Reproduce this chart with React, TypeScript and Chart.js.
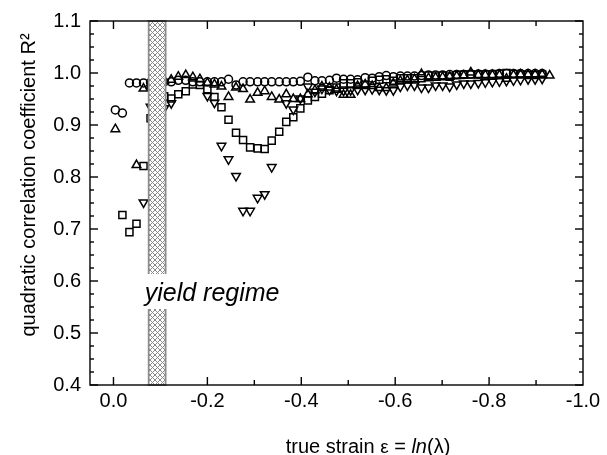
import React, { useEffect, useRef } from "react";
import { Chart, registerables } from "chart.js";

Chart.register(...registerables);

const FONT = "Arial, 'Liberation Sans', Helvetica, sans-serif";

// true strain (x) positions of the measured points
const strain = [
  -0.004, -0.019, -0.034, -0.049, -0.064, -0.079, -0.094, -0.108,
  -0.123, -0.138, -0.154, -0.169, -0.184, -0.2, -0.215, -0.23, -0.245, -0.261,
  -0.276, -0.291, -0.307, -0.322, -0.337, -0.353, -0.368, -0.383, -0.398, -0.414,
  -0.429, -0.444, -0.46, -0.475, -0.49, -0.505, -0.52, -0.536, -0.551, -0.566,
  -0.581, -0.596, -0.611, -0.626, -0.641, -0.656, -0.671, -0.686, -0.701, -0.716,
  -0.731, -0.746, -0.761, -0.777, -0.792, -0.807, -0.822, -0.837, -0.852, -0.867,
  -0.883, -0.898, -0.913, -0.929,
];

const r2Circle = [
  0.929, 0.923, 0.981, 0.981, 0.981, 0.982, 0.982, 0.983,
  0.983, 0.986, 0.986, 0.983, 0.983, 0.983, 0.983, 0.983, 0.988, 0.977,
  0.983, 0.983, 0.983, 0.983, 0.983, 0.983, 0.983, 0.983, 0.984, 0.992,
  0.985, 0.985, 0.986, 0.99, 0.988, 0.988, 0.987, 0.991, 0.99, 0.993,
  0.995, 0.993, 0.994, 0.994, 0.994, 0.995, 0.996, 0.996, 0.996, 0.997,
  0.997, 0.997, 0.998, 0.998, 0.998, 0.998, 0.999, 0.999, 0.999, 0.999,
  0.999, 0.999, 0.999, null,
];

const r2Square = [
  null, 0.727, 0.694, 0.71, 0.821, 0.913, 0.935, 0.955,
  0.951, 0.959, 0.965, 0.978, 0.977, 0.969, 0.954, 0.934, 0.91, 0.885,
  0.871, 0.857, 0.855, 0.854, 0.87, 0.887, 0.906, 0.915, 0.932, 0.947,
  0.954, 0.96, 0.967, 0.972, 0.98, 0.98, 0.982, 0.977, 0.985, 0.987,
  0.988, 0.985, 0.99, 0.99, 0.99, 0.99, 0.995, 0.993, 0.995, 0.993,
  0.996, 0.997, 0.997, 0.997, 0.997, 0.997, 0.998, 1.0, 0.998, 0.997,
  0.996, 0.996, 0.997, null,
];

const r2TriUp = [
  0.892, null, null, 0.823, 0.97, 0.975, 0.98, 0.985,
  0.987, 0.993, 0.996, 0.992, 0.988, 0.981, 0.978, 0.974, 0.954, 0.972,
  0.969, 0.949, 0.962, 0.965, 0.954, 0.949, 0.959, 0.95, 0.95, 0.959,
  0.967, 0.974, 0.972, 0.968, 0.958, 0.958, 0.975, 0.978, 0.975, 0.971,
  0.971, 0.98, 0.985, 0.986, 0.988, 0.998, 0.99, 0.991, 0.992, 0.993,
  0.994, 0.995, 1.001, 0.996, 0.996, 0.996, 0.996, 0.989, 0.996, 0.997,
  0.997, 0.997, 0.997, 0.995,
];

const r2TriDown = [
  null, null, null, null, 0.751, 0.935, null, 0.932,
  0.942, null, null, null, null, 0.956, 0.943, 0.86, 0.834, 0.802,
  0.735, 0.735, 0.76, 0.767, 0.819, null, 0.942, 0.93, 0.951, 0.974,
  0.964, 0.97, 0.968, 0.966, 0.966, 0.967, 0.968, 0.968, 0.969, 0.968,
  0.967, 0.967, 0.974, 0.976, 0.976, 0.972, 0.972, 0.976, 0.976, 0.974,
  0.978, 0.98, 0.98, 0.981, 0.982, 0.983, 0.984, 0.985, 0.986, 0.987,
  0.988, 0.988, 0.989, null,
];

const xTickValues = [0, -0.2, -0.4, -0.6, -0.8, -1.0];
const xMinorValues = [0.0, -0.1, -0.2, -0.3, -0.4, -0.5, -0.6, -0.7, -0.8, -0.9];
const yTickValues = [0.4, 0.5, 0.6, 0.7, 0.8, 0.9, 1.0, 1.1];
const yMinorValues = [
  0.425, 0.45, 0.475, 0.525, 0.55, 0.575, 0.625, 0.65, 0.675, 0.725, 0.75, 0.775,
  0.825, 0.85, 0.875, 0.925, 0.95, 0.975, 1.025, 1.05, 1.075,
];
const yieldBand = [-0.075, -0.111];
const yieldLabel = "yield regime";
const yTitle = "quadratic correlation coefficient R\u00B2";

function toPoints(ys: (number | null)[]) {
  const out: { x: number; y: number }[] = [];
  ys.forEach((v, i) => {
    if (v !== null) out.push({ x: strain[i], y: v });
  });
  return out;
}

function makePattern(ctx: CanvasRenderingContext2D) {
  const c = document.createElement("canvas");
  c.width = 5;
  c.height = 5;
  const p = c.getContext("2d")!;
  p.fillStyle = "#ffffff";
  p.fillRect(0, 0, 5, 5);
  p.strokeStyle = "#8a8a8a";
  p.lineWidth = 1;
  p.beginPath();
  p.moveTo(0, 0);
  p.lineTo(5, 5);
  p.moveTo(5, 0);
  p.lineTo(0, 5);
  p.stroke();
  return ctx.createPattern(c, "repeat")!;
}

const decorPlugin = {
  id: "decor",
  afterDatasetsDraw(chart: any) {
    const { ctx, chartArea, scales } = chart;
    const { left, right, top, bottom } = chartArea;
    const x = scales.x;
    const y = scales.y;
    ctx.save();
    // ticks (inward, on all four sides)
    ctx.fillStyle = "#000";
    const tw = 1.4;
    xMinorValues.forEach((v) => {
      const px = x.getPixelForValue(v);
      const major = xTickValues.some((t) => Math.abs(t - v) < 1e-6);
      const len = major ? 8 : 5;
      ctx.fillRect(px - tw / 2, bottom - len, tw, len);
      ctx.fillRect(px - tw / 2, top, tw, len);
    });
    yTickValues.forEach((v) => {
      const py = y.getPixelForValue(v);
      ctx.fillRect(left, py - tw / 2, 8, tw);
      ctx.fillRect(right - 8, py - tw / 2, 8, tw);
    });
    yMinorValues.forEach((v) => {
      const py = y.getPixelForValue(v);
      ctx.fillRect(left, py - tw / 2, 4, tw);
      ctx.fillRect(right - 4, py - tw / 2, 4, tw);
    });

    // yield band
    const x1 = x.getPixelForValue(yieldBand[0]);
    const x2 = x.getPixelForValue(yieldBand[1]);
    ctx.fillStyle = makePattern(ctx);
    ctx.fillRect(x1, top, x2 - x1, bottom - top);
    ctx.strokeStyle = "#8c8c8c";
    ctx.lineWidth = 1.8;
    ctx.strokeRect(x1, top, x2 - x1, bottom - top);

    // label with white background
    const base = y.getPixelForValue(0.5615);
    ctx.fillStyle = "#fff";
    ctx.fillRect(x1 - 2, base - 27, x2 - x1 + 4, 35);
    ctx.font = `italic 25px ${FONT}`;
    ctx.fillStyle = "#000";
    ctx.textAlign = "left";
    ctx.textBaseline = "alphabetic";
    ctx.fillText(yieldLabel, x1 - 4, base);

    // frame
    ctx.strokeStyle = "#000";
    ctx.lineWidth = 1.4;
    ctx.strokeRect(left, top, right - left, bottom - top);

    // y title
    ctx.save();
    ctx.translate(29, 185);
    ctx.rotate(-Math.PI / 2);
    ctx.font = `20px ${FONT}`;
    ctx.textAlign = "center";
    ctx.textBaseline = "middle";
    ctx.fillText(yTitle, 0, 0);
    ctx.restore();

    // x title with mixed styles
    const parts = [
      { t: "true strain ", f: `20px ${FONT}` },
      { t: "\u03B5", f: `19px ${FONT}` },
      { t: " = ", f: `20px ${FONT}` },
      { t: "ln", f: `italic 20px ${FONT}` },
      { t: "(\u03BB)", f: `20px ${FONT}` },
    ];
    let total = 0;
    parts.forEach((p) => {
      ctx.font = p.f;
      total += ctx.measureText(p.t).width;
    });
    let cx = 368 - total / 2;
    ctx.fillStyle = "#000";
    ctx.textAlign = "left";
    ctx.textBaseline = "alphabetic";
    parts.forEach((p) => {
      ctx.font = p.f;
      ctx.fillText(p.t, cx, 453);
      cx += ctx.measureText(p.t).width;
    });
    ctx.restore();
  },
};

export default function App() {
  const ref = useRef<HTMLCanvasElement>(null);
  useEffect(() => {
    document.body.style.margin = "0";
    const canvas = ref.current!;
    const common = {
      borderColor: "#000",
      backgroundColor: "rgba(0,0,0,0)",
      pointBorderWidth: 1.5,
      showLine: false,
    };
    const chart = new Chart(canvas, {
      type: "scatter",
      data: {
        datasets: [
          { ...common, label: "circle", data: toPoints(r2Circle), pointStyle: "circle", pointRadius: 4 },
          { ...common, label: "square", data: toPoints(r2Square), pointStyle: "rect", pointRadius: 5 },
          { ...common, label: "up", data: toPoints(r2TriUp), pointStyle: "triangle", pointRadius: 5 },
          { ...common, label: "down", data: toPoints(r2TriDown), pointStyle: "triangle", pointRadius: 5, pointRotation: 180 },
        ],
      } as any,
      options: {
        animation: false,
        responsive: false,
        maintainAspectRatio: false,
        devicePixelRatio: 1,
        layout: { padding: { top: 20, right: 24, left: 0, bottom: 0 } },
        plugins: { legend: { display: false }, tooltip: { enabled: false } },
        scales: {
          x: {
            type: "linear",
            min: -1.0,
            max: 0.05,
            reverse: true,
            afterBuildTicks: (s: any) => {
              s.ticks = xTickValues.map((v) => ({ value: v }));
            },
            afterFit: (s: any) => {
              s.height = 70;
            },
            grid: { display: false, drawTicks: false },
            border: { display: false },
            ticks: {
              color: "#000",
              font: { family: FONT, size: 20 },
              padding: 4,
              maxRotation: 0,
              autoSkip: false,
              callback: (v: any) => Number(v).toFixed(1),
            },
          },
          y: {
            type: "linear",
            min: 0.4,
            max: 1.1,
            afterBuildTicks: (s: any) => {
              s.ticks = yTickValues.map((v) => ({ value: v }));
            },
            afterFit: (s: any) => {
              s.width = 90;
            },
            grid: { display: false, drawTicks: false },
            border: { display: false },
            ticks: {
              color: "#000",
              font: { family: FONT, size: 20 },
              padding: 9,
              autoSkip: false,
              callback: (v: any) => Number(v).toFixed(1),
            },
          },
        },
      } as any,
      plugins: [decorPlugin],
    });
    return () => chart.destroy();
  }, []);
  return (
    <div style={{ position: "absolute", left: 0, top: 0, width: 607, height: 455 }}>
      <canvas ref={ref} width={607} height={455} style={{ display: "block" }} />
    </div>
  );
}
